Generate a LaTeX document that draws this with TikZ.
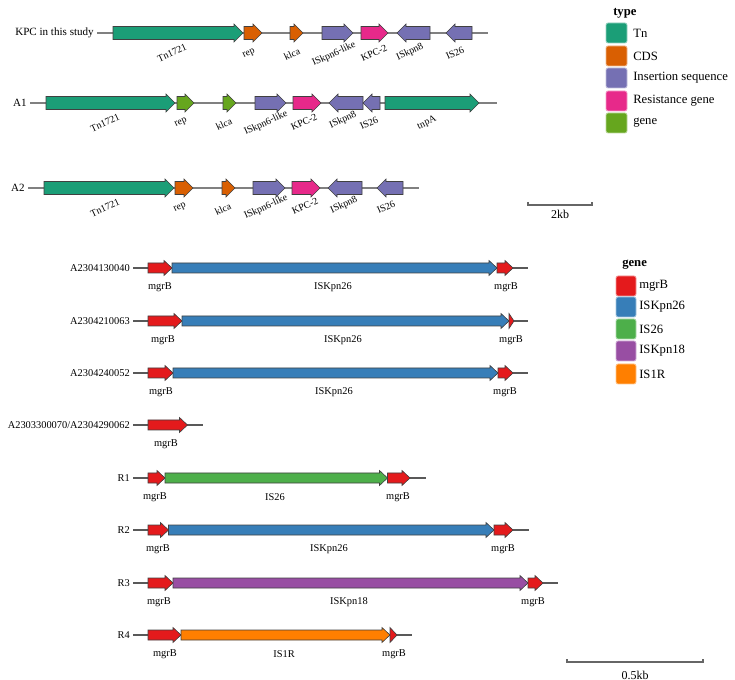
\documentclass[tikz,border=0pt]{standalone}
\usepackage{fontspec}
\setmainfont{Liberation Serif}
\definecolor{cTn}{HTML}{1B9E77}
\definecolor{cCDS}{HTML}{D95F02}
\definecolor{cIS}{HTML}{7570B3}
\definecolor{cRes}{HTML}{E7298A}
\definecolor{cGene}{HTML}{66A61E}
\definecolor{cMgr}{HTML}{E41A1C}
\definecolor{cKa}{HTML}{377EB8}
\definecolor{cISb}{HTML}{4DAF4A}
\definecolor{cKb}{HTML}{984EA3}
\definecolor{cIR}{HTML}{FF7F00}
\def\bh{6.5}\def\hh{9}\def\hl{9}
\newcommand\genefwd[4]{\draw[genebox,fill=#4] (#1,#3-\bh) -- (#2-\hl,#3-\bh) -- (#2-\hl,#3-\hh) -- (#2,#3) -- (#2-\hl,#3+\hh) -- (#2-\hl,#3+\bh) -- (#1,#3+\bh) -- cycle;}
\newcommand\generev[4]{\draw[genebox,fill=#4] (#2,#3-\bh) -- (#1+\hl,#3-\bh) -- (#1+\hl,#3-\hh) -- (#1,#3) -- (#1+\hl,#3+\hh) -- (#1+\hl,#3+\bh) -- (#2,#3+\bh) -- cycle;}
\newcommand\genetip[4]{\draw[genebox,fill=#4] (#1,#3-\hh) -- (#2,#3) -- (#1,#3+\hh) -- cycle;}
\tikzset{
  genebox/.style={draw=black!75,line width=0.45pt,line join=miter},
  track/.style={draw=black!50,line width=0.8pt},
  trackb/.style={draw=black!65,line width=0.8pt},
  rowlab/.style={anchor=east,inner sep=0pt,font=\fontsize{7.8}{9}\selectfont},
  glab/.style={inner sep=0pt,rotate=25,font=\fontsize{7.4}{9}\selectfont},
  blab/.style={inner sep=0pt,font=\fontsize{7.8}{9}\selectfont},
  legtitle/.style={anchor=west,inner sep=0pt,font=\fontsize{9.5}{11}\selectfont\bfseries},
  legtext/.style={anchor=west,inner sep=0pt,font=\fontsize{9.5}{11}\selectfont},
  swatch/.style={rounded corners=1.5pt,line width=0.6pt},
  scalebar/.style={draw=black!60,line width=0.9pt},
}
\begin{document}
\begin{tikzpicture}[x=0.75pt,y=-0.75pt]
\useasboundingbox (0,0) rectangle (735,680);
% ---------------- top panel ----------------
% row KPC
\node[rowlab,font=\fontsize{8.3}{10}\selectfont] (rk) at (94,33) {KPC in this study};
\draw[track] (97,33) -- (488,33);
\genefwd{113}{243}{33}{cTn}
\genefwd{244}{262}{33}{cCDS}
\genefwd{290}{303}{33}{cCDS}
\genefwd{322}{353}{33}{cIS}
\genefwd{361}{388}{33}{cRes}
\generev{397}{430}{33}{cIS}
\generev{446}{472}{33}{cIS}
\node[glab] (k1) at (172,53) {Tn1721};
\node[glab] (k2) at (249,54) {rep};
\node[glab] (k3) at (292,54) {klca};
\node[glab] (k4) at (334,54) {ISkpn6-like};
\node[glab] (k5) at (374,53) {KPC-2};
\node[glab] (k6) at (410,52) {ISkpn8};
\node[glab] (k7) at (455,53) {IS26};
% row A1
\node[rowlab,font=\fontsize{8.3}{10}\selectfont] (ra1) at (27,103) {A1};
\draw[track] (30,103) -- (497,103);
\genefwd{46}{175}{103}{cTn}
\genefwd{177}{194}{103}{cGene}
\genefwd{223}{236}{103}{cGene}
\genefwd{255}{286}{103}{cIS}
\genefwd{293}{321}{103}{cRes}
\generev{329}{363}{103}{cIS}
\generev{363}{380}{103}{cIS}
\genefwd{385}{479}{103}{cTn}
\node[glab] (a11) at (105,123) {Tn1721};
\node[glab] (a12) at (181,123) {rep};
\node[glab] (a13) at (224,124) {klca};
\node[glab] (a14) at (266,123) {ISkpn6-like};
\node[glab] (a15) at (304,122) {KPC-2};
\node[glab] (a16) at (343,120) {ISkpn8};
\node[glab] (a17) at (369,123) {IS26};
\node[glab] (a18) at (427,123) {tnpA};
% row A2
\node[rowlab,font=\fontsize{8.3}{10}\selectfont] (ra2) at (25,188) {A2};
\draw[track] (28,188) -- (419,188);
\genefwd{44}{174}{188}{cTn}
\genefwd{175}{193}{188}{cCDS}
\genefwd{222}{235}{188}{cCDS}
\genefwd{253}{285}{188}{cIS}
\genefwd{292}{320}{188}{cRes}
\generev{328}{362}{188}{cIS}
\generev{377}{403}{188}{cIS}
\node[glab] (a21) at (105,208) {Tn1721};
\node[glab] (a22) at (180,208) {rep};
\node[glab] (a23) at (223,209) {klca};
\node[glab] (a24) at (266,207) {ISkpn6-like};
\node[glab] (a25) at (305,206) {KPC-2};
\node[glab] (a26) at (344,205) {ISkpn8};
\node[glab] (a27) at (386,207) {IS26};
% legend type
\node[legtitle] (lt) at (613,13) {type};
\draw[swatch,fill=cTn,draw=cTn!45!white] (606,23) rectangle (627,43);
\draw[swatch,fill=cCDS,draw=cCDS!45!white] (606,46) rectangle (627,66);
\draw[swatch,fill=cIS,draw=cIS!45!white] (606,68) rectangle (627,88);
\draw[swatch,fill=cRes,draw=cRes!45!white] (606,91) rectangle (627,111);
\draw[swatch,fill=cGene,draw=cGene!45!white] (606,113) rectangle (627,133);
\node[legtext] (lt1) at (633,33) {Tn};
\node[legtext] (lt2) at (633,56) {CDS};
\node[legtext] (lt3) at (633,78) {Insertion sequence};
\node[legtext] (lt4) at (633,101) {Resistance gene};
\node[legtext] (lt5) at (633,123) {gene};
% scale 2kb
\draw[scalebar] (528,202) -- (528,205) -- (592,205) -- (592,202);
\node[blab,font=\fontsize{9}{10}\selectfont] (s1) at (560,214) {2kb};
% ---------------- bottom panel ----------------
\def\bh{5}\def\hh{7.5}\def\hl{8}
% B1
\node[rowlab] (b1) at (130,268) {A2304130040};
\draw[trackb] (133,268) -- (528,268);
\genefwd{148}{172}{268}{cMgr}
\genefwd{172}{497}{268}{cKa}
\genefwd{497}{513}{268}{cMgr}
\node[blab] (b1a) at (160,287) {mgrB};
\node[blab] (b1b) at (333,287) {ISKpn26};
\node[blab] (b1c) at (506,287) {mgrB};
% B2
\node[rowlab] (b2) at (130,321) {A2304210063};
\draw[trackb] (133,321) -- (528,321);
\genefwd{148}{182}{321}{cMgr}
\genefwd{182}{509}{321}{cKa}
\genetip{509}{514}{321}{cMgr}
\node[blab] (b2a) at (163,340) {mgrB};
\node[blab] (b2b) at (343,340) {ISKpn26};
\node[blab] (b2c) at (511,340) {mgrB};
% B3
\node[rowlab] (b3) at (130,373) {A2304240052};
\draw[trackb] (133,373) -- (528,373);
\genefwd{148}{173}{373}{cMgr}
\genefwd{173}{498}{373}{cKa}
\genefwd{498}{513}{373}{cMgr}
\node[blab] (b3a) at (161,392) {mgrB};
\node[blab] (b3b) at (334,392) {ISKpn26};
\node[blab] (b3c) at (505,392) {mgrB};
% B4
\node[rowlab] (b4) at (130,425) {A2303300070/A2304290062};
\draw[trackb] (133,425) -- (203,425);
\genefwd{148}{187.5}{425}{cMgr}
\node[blab] (b4a) at (166,444) {mgrB};
% R1
\node[rowlab] (r1) at (130,478) {R1};
\draw[trackb] (133,478) -- (426,478);
\genefwd{148}{165}{478}{cMgr}
\genefwd{165}{387.5}{478}{cISb}
\genefwd{387.5}{410}{478}{cMgr}
\node[blab] (r1a) at (155,497) {mgrB};
\node[blab] (r1b) at (275,497) {IS26};
\node[blab] (r1c) at (398,497) {mgrB};
% R2
\node[rowlab] (r2) at (130,530) {R2};
\draw[trackb] (133,530) -- (529,530);
\genefwd{148}{168.5}{530}{cMgr}
\genefwd{168.5}{494}{530}{cKa}
\genefwd{494}{513}{530}{cMgr}
\node[blab] (r2a) at (158,549) {mgrB};
\node[blab] (r2b) at (329,549) {ISKpn26};
\node[blab] (r2c) at (503,549) {mgrB};
% R3
\node[rowlab] (r3) at (130,583) {R3};
\draw[trackb] (133,583) -- (558,583);
\genefwd{148}{173}{583}{cMgr}
\genefwd{173}{528}{583}{cKb}
\genefwd{528}{543}{583}{cMgr}
\node[blab] (r3a) at (159,602) {mgrB};
\node[blab] (r3b) at (349,602) {ISKpn18};
\node[blab] (r3c) at (533,602) {mgrB};
% R4
\node[rowlab] (r4) at (130,635) {R4};
\draw[trackb] (133,635) -- (412,635);
\genefwd{148}{181}{635}{cMgr}
\genefwd{181}{390}{635}{cIR}
\genetip{390}{397}{635}{cMgr}
\node[blab] (r4a) at (165,654) {mgrB};
\node[blab] (r4b) at (284,654) {IS1R};
\node[blab] (r4c) at (394,654) {mgrB};
% legend gene
\node[legtitle] (lg) at (622,265) {gene};
\draw[swatch,fill=cMgr,draw=cMgr!45!white] (616,276) rectangle (636,296);
\draw[swatch,fill=cKa,draw=cKa!45!white] (616,297) rectangle (636,317);
\draw[swatch,fill=cISb,draw=cISb!45!white] (616,319) rectangle (636,339);
\draw[swatch,fill=cKb,draw=cKb!45!white] (616,341) rectangle (636,361);
\draw[swatch,fill=cIR,draw=cIR!45!white] (616,364) rectangle (636,384);
\node[legtext] (lg1) at (639,286) {mgrB};
\node[legtext] (lg2) at (639,307) {ISKpn26};
\node[legtext] (lg3) at (639,329) {IS26};
\node[legtext] (lg4) at (639,351) {ISKpn18};
\node[legtext] (lg5) at (639,374) {IS1R};
% scale 0.5kb
\draw[scalebar] (567,659) -- (567,662) -- (703,662) -- (703,659);
\node[blab,font=\fontsize{9}{10}\selectfont] (s2) at (635,675) {0.5kb};
\end{tikzpicture}
\end{document}
